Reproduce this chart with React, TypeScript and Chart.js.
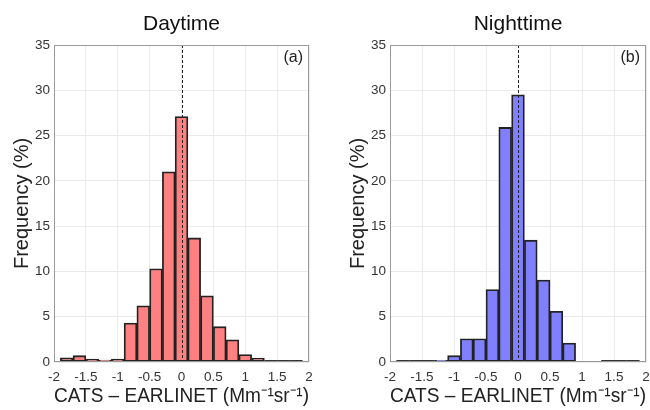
import React, { useEffect, useRef } from "react";
import { Chart, registerables } from "chart.js";

Chart.register(...registerables);

const binCenters = [-1.8, -1.6, -1.4, -1.2, -1.0, -0.8, -0.6, -0.4, -0.2, 0, 0.2, 0.4, 0.6, 0.8, 1.0, 1.2, 1.4, 1.6, 1.8];
const dayFreq = [0.45, 0.7, 0.33, 0.22, 0.33, 4.3, 6.2, 10.3, 21.0, 27.1, 13.7, 7.3, 3.9, 2.45, 0.82, 0.44, 0, 0, 0];
const nightFreq = [0, 0, 0, 0.18, 0.7, 2.57, 2.57, 8.0, 25.9, 29.5, 13.45, 9.04, 5.6, 2.1, 0.08, 0.08, 0, 0, 0];
const xTicks = [-2, -1.5, -1, -0.5, 0, 0.5, 1, 1.5, 2];
const yTicks = [0, 5, 10, 15, 20, 25, 30, 35];
const binWidth = 0.2;

const FONT = "'Liberation Sans', Arial, Helvetica, sans-serif";

type PanelProps = {
  title: string;
  tag: string;
  values: number[];
  color: string;
  left: number;
  width: number;
  padRight: number;
};

function Panel({ title, tag, values, color, left, width, padRight }: PanelProps) {
  const ref = useRef<HTMLCanvasElement | null>(null);
  useEffect(() => {
    if (!ref.current) return;
    const overlay = {
      id: "overlay",
      afterDatasetsDraw(chart: any) {
        const { ctx, chartArea } = chart;
        const xs = chart.scales.x;
        const ys = chart.scales.y;
        ctx.save();
        // empty bins drawn as flat edges on the baseline
        const y0 = Math.round(ys.getPixelForValue(0));
        ctx.strokeStyle = "#333";
        ctx.lineWidth = 2;
        binCenters.forEach((c, i) => {
          if (values[i] === 0) {
            ctx.beginPath();
            ctx.moveTo(xs.getPixelForValue(c - binWidth / 2), y0 - 1);
            ctx.lineTo(xs.getPixelForValue(c + binWidth / 2), y0 - 1);
            ctx.stroke();
          }
        });
        const x0 = xs.getPixelForValue(0);
        ctx.strokeStyle = "#222";
        ctx.lineWidth = 1;
        ctx.setLineDash([3, 2]);
        ctx.beginPath();
        ctx.moveTo(Math.round(x0) + 0.5, chartArea.top);
        ctx.lineTo(Math.round(x0) + 0.5, chartArea.bottom);
        ctx.stroke();
        ctx.setLineDash([]);
        ctx.strokeStyle = "#9a9a9a";
        ctx.lineWidth = 1;
        ctx.strokeRect(chartArea.left + 0.5, chartArea.top + 0.5, chartArea.right - chartArea.left - 1, chartArea.bottom - chartArea.top - 1);
        ctx.fillStyle = "#222";
        ctx.font = `16px ${FONT}`;
        ctx.textAlign = "right";
        ctx.textBaseline = "middle";
        ctx.fillText(tag, chartArea.right - 6, chartArea.top + 13);
        ctx.restore();
      },
    };
    const chart = new Chart(ref.current, {
      type: "bar",
      data: {
        datasets: [
          {
            data: binCenters.map((c, i) => ({ x: c, y: values[i] })),
            backgroundColor: color,
            borderColor: "#222",
            borderWidth: 1.8,
            borderSkipped: false,
            barPercentage: 1,
            categoryPercentage: 1,
          },
        ],
      },
      options: {
        responsive: false,
        animation: false,
        layout: { padding: { left: 0, right: padRight, top: 0, bottom: 0 } },
        plugins: {
          legend: { display: false },
          tooltip: { enabled: false },
          title: {
            display: true,
            text: title,
            fullSize: false,
            color: "#111",
            font: { size: 21, family: FONT, weight: "normal" },
            padding: { top: 11.9, bottom: 7.9 },
          },
        },
        scales: {
          x: {
            type: "linear",
            min: -2,
            max: 2,
            offset: false,
            afterBuildTicks: (s: any) => {
              s.ticks = xTicks.map((v) => ({ value: v }));
            },
            afterFit: (s: any) => {
              s.height = 48;
              s.paddingLeft = 0;
              s.paddingRight = 0;
            },
            grid: { color: "#ebebeb", drawTicks: false, offset: false },
            border: { display: false },
            ticks: {
              color: "#333",
              padding: 7,
              maxRotation: 0,
              autoSkip: false,
              font: { size: 13.5, family: FONT },
              callback: (v: any) => String(v),
            },
            title: {
              display: true,
              text: "CATS – EARLINET (Mm⁻¹sr⁻¹)",
              color: "#222",
              font: { size: 20, family: FONT },
              padding: { top: 0, bottom: 2 },
            },
          },
          y: {
            min: 0,
            max: 35,
            afterBuildTicks: (s: any) => {
              s.ticks = yTicks.map((v) => ({ value: v }));
            },
            afterFit: (s: any) => {
              s.width = 54;
              s.paddingTop = 0;
              s.paddingBottom = 0;
            },
            grid: { color: "#ebebeb", drawTicks: false },
            border: { display: false },
            ticks: {
              color: "#333",
              padding: 4,
              font: { size: 13.5, family: FONT },
            },
            title: {
              display: true,
              text: "Frequency (%)",
              color: "#222",
              font: { size: 20, family: FONT },
              padding: { top: 10, bottom: 0 },
            },
          },
        },
      },
      plugins: [overlay],
    } as any);
    return () => chart.destroy();
  }, [title, tag, values, color, padRight]);
  return (
    <canvas
      ref={ref}
      width={width}
      height={410}
      style={{ position: "absolute", left, top: 0, width, height: 410 }}
    />
  );
}

export default function App() {
  return (
    <div style={{ position: "fixed", left: 0, top: 0, width: 650, height: 410, background: "#fff" }}>
      <Panel title="Daytime" tag="(a)" values={dayFreq} color="#ff8080" left={0} width={320} padRight={11} />
      <Panel title="Nighttime" tag="(b)" values={nightFreq} color="#8080ff" left={336} width={314} padRight={4} />
    </div>
  );
}
